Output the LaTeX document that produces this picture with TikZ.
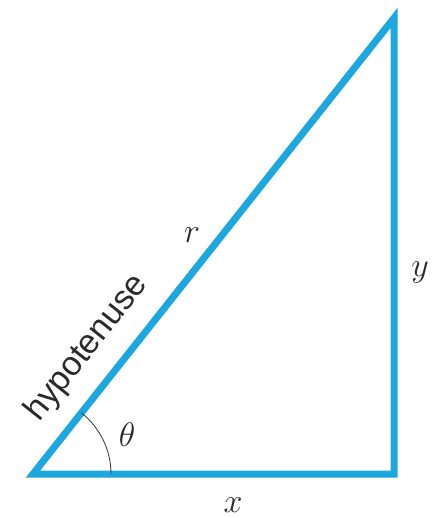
\RequirePackage{fix-cm}
\documentclass[tikz,border=0pt]{standalone}
\usepackage{fontspec}
\usetikzlibrary{calc}
\newfontfamily\hypfont{Liberation Sans}
\definecolor{tri}{HTML}{1DA7DF}
\definecolor{arcc}{HTML}{444444}
\definecolor{txt}{HTML}{2A2A2A}
\tikzset{
  side/.style={draw=tri, line width=7pt, line join=miter},
  lbl/.style={font=\fontsize{34}{38}\selectfont, text=txt, inner sep=0pt},
  hyp/.style={font=\hypfont\fontsize{34}{38}\selectfont, text=txt, inner sep=0pt}
}
\begin{document}
\begin{tikzpicture}[x=1pt,y=-1pt]
\useasboundingbox (0,0) rectangle (433,518);
\coordinate (A) at (33,474);
\coordinate (B) at (394,474);
\coordinate (C) at (394,18);
\draw[side] (A) -- (B) -- (C) -- cycle;
\draw[arcc, line width=0.9pt] ($(A)+(78,0)$) arc[start angle=0, end angle=-51.6, radius=78];
\node[lbl] (theta) at (127,435) {$\theta$};
\node[lbl] (r) at (192,235) {$r$};
\node[lbl] (y) at (420,272) {$y$};
\node[lbl] (x) at (233,505) {$x$};
\node[hyp, rotate=51.6] (hyptext) at (87,348) {hypotenuse};
\end{tikzpicture}
\end{document}
